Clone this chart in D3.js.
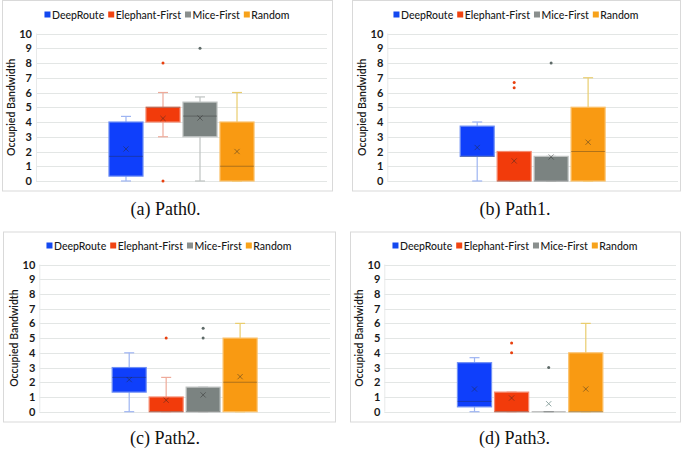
<!DOCTYPE html>
<html><head><meta charset="utf-8">
<script src="https://cdn.jsdelivr.net/npm/d3@7"></script>
<style>body{margin:0;background:#fff}svg{display:block}</style>
</head><body>
<script>
// ---- data ----
const series = ["DeepRoute", "Elephant-First", "Mice-First", "Random"];
const captions = ["(a) Path0.", "(b) Path1.", "(c) Path2.", "(d) Path3."];
const yTicks = [0,1,2,3,4,5,6,7,8,9,10];
// per panel, per series
const whiskerLow = [[0,3,0,0],[0,0,0,0],[0,0,0,0],[0,0,0,0]];
const q1 =        [[0.33,4,3,0],[1.67,0,0,0],[1.33,0,0,0],[0.33,0,0,0]];
const median =    [[1.67,5,4.4,1],[1.67,0,0,2],[2.33,0,0,2],[0.7,0,0,0]];
const q3 =        [[4,5,5.35,4],[3.72,2,1.67,5],[3,1,1.67,5],[3.33,1.33,0,4]];
const whiskerHigh=[[4.38,6,5.7,6],[4,2,1.67,7],[4,2.33,1.67,6],[3.67,1.33,0,6]];
const means =     [[2.17,4.24,4.27,2],[2.27,1.36,1.63,2.63],[2.18,0.78,1.14,2.38],[1.54,0.93,0.54,1.54]];
const outliers =  [[[],[8,0],[9],[]],[[],[6.67,6.33],[8],[]],[[],[5],[5.67,5],[]],[[],[4.67,4],[3],[]]];

// ---- styles / layout ----
const fills = ["#0f3ffb", "#f23b0b", "#7b8381", "#f99a12"];
const edges = ["#6f8ff5", "#f58a70", "#c0c4c3", "#fbc16a"];
const whiskerCols = ["#9db4f2", "#eeaa9a", "#bfc3c2", "#e9cd6e"];
const outCols = ["#1a3a9c", "#e8400f", "#5e6a68", "#9a6410"];
const legendCols = ["#1348f0", "#f04412", "#8a8f8e", "#f7a21a"];
const layout = [
  {fx:2, fy:0.5, fw:330, fh:190.5, x0:36, x1:327, y0:33.5, y1:181, cap:165.5, capY:215},
  {fx:352, fy:0.5, fw:328, fh:190.5, x0:387.3, x1:678, y0:33.5, y1:181, cap:515, capY:215},
  {fx:3, fy:232, fw:332, fh:190, x0:39.3, x1:330, y0:264.5, y1:411.7, cap:165, capY:444},
  {fx:350, fy:232, fw:330, fh:190, x0:384.3, x1:676, y0:264.5, y1:411.7, cap:514.5, capY:444}
];
const uiFont = "Lato, 'Open Sans', sans-serif";

const svg = d3.select("body").append("svg").attr("width",685).attr("height",450);

layout.forEach((L, p) => {
  const g = svg.append("g");
  g.append("rect").attr("x",L.fx+0.5).attr("y",L.fy).attr("width",L.fw).attr("height",L.fh)
    .attr("fill","#fff").attr("stroke","#d9d9d9").attr("stroke-width",1);

  const y = d3.scaleLinear().domain([0,10]).range([L.y1, L.y0]);
  const cx = (L.x0 + L.x1) / 2;
  const gw = (L.x1 - L.x0) * 0.4985;
  const x = d3.scaleBand().domain(series).range([cx - gw/2, cx + gw/2]).paddingInner(0.08).paddingOuter(0);

  g.append("g").selectAll("line").data(yTicks).join("line")
    .attr("x1",L.x0).attr("x2",L.x1)
    .attr("y1",d=>Math.round(y(d))+0.5).attr("y2",d=>Math.round(y(d))+0.5)
    .attr("stroke","#e3e6e5").attr("stroke-width",1);
  g.append("line").attr("x1",L.x0+0.5).attr("x2",L.x0+0.5).attr("y1",L.y0).attr("y2",L.y1)
    .attr("stroke","#e8eaea");

  const ax = g.append("g").attr("transform",`translate(${L.x0},0)`)
    .call(d3.axisLeft(y).tickValues(yTicks).tickSize(0).tickPadding(4).tickFormat(d3.format("d")));
  ax.select(".domain").remove();
  ax.selectAll("text").attr("font-family",uiFont).attr("font-size","11px").attr("font-weight",700).attr("fill","#1a1a1a");

  g.append("text").attr("transform",`translate(${L.x0-25},${(L.y0+L.y1)/2}) rotate(-90)`)
    .attr("text-anchor","middle").attr("dominant-baseline","central")
    .attr("font-family",uiFont).attr("font-size","10.5px").attr("font-weight",600).attr("fill","#1a1a1a")
    .text("Occupied Bandwidth");

  series.forEach((s, i) => {
    const bx = x(s), bw = x.bandwidth(), mx = bx + bw/2;
    const gg = g.append("g");
    [[whiskerLow[p][i], q1[p][i]], [q3[p][i], whiskerHigh[p][i]]].forEach(([a,b]) => {
      gg.append("line").attr("x1",mx).attr("x2",mx).attr("y1",y(a)).attr("y2",y(b))
        .attr("stroke",whiskerCols[i]).attr("stroke-width",1.2);
    });
    [whiskerLow[p][i], whiskerHigh[p][i]].forEach(v => {
      gg.append("line").attr("x1",mx-5).attr("x2",mx+5).attr("y1",y(v)).attr("y2",y(v))
        .attr("stroke",whiskerCols[i]).attr("stroke-width",1.2);
    });
    const top = y(q3[p][i]), bot = y(q1[p][i]);
    gg.append("rect").attr("x",bx).attr("y",top).attr("width",bw).attr("height",Math.max(0,bot-top))
      .attr("fill",fills[i]).attr("stroke",edges[i]).attr("stroke-width",1.2);
    gg.append("line").attr("x1",bx).attr("x2",bx+bw).attr("y1",y(median[p][i])).attr("y2",y(median[p][i]))
      .attr("stroke","rgba(40,40,40,0.35)").attr("stroke-width",1);
    const my = y(means[p][i]), r = 2.6;
    const insideBox = means[p][i] <= q3[p][i] && means[p][i] >= q1[p][i] && q3[p][i] > q1[p][i];
    gg.append("path").attr("d",`M${mx-r},${my-r}L${mx+r},${my+r}M${mx-r},${my+r}L${mx+r},${my-r}`)
      .attr("stroke", insideBox ? "rgba(40,40,40,0.45)" : "#8fa6a3").attr("stroke-width",1).attr("fill","none");
    gg.selectAll("circle").data(outliers[p][i]).join("circle")
      .attr("cx",mx).attr("cy",d=>y(d)).attr("r",1.5).attr("fill",outCols[i]);
  });

  const lg = g.append("g").attr("font-family",uiFont).attr("font-size","10.5px").attr("font-weight",500).attr("fill","#1a1a1a");
  const ly = L.y0 - 19;
  const items = series.map((s,i) => {
    const t = lg.append("text").attr("dominant-baseline","central").attr("y",ly).text(s);
    return {t, w: t.node().getComputedTextLength(), i};
  });
  const sq = 6, gap1 = 1.5, gap2 = 4;
  const total = d3.sum(items, d => sq + gap1 + d.w) + gap2 * (items.length - 1);
  let cur = L.fx + L.fw/2 - total/2;
  items.forEach(d => {
    lg.append("rect").attr("x",cur).attr("y",ly-sq/2).attr("width",sq).attr("height",sq).attr("fill",legendCols[d.i]);
    d.t.attr("x",cur + sq + gap1);
    cur += sq + gap1 + d.w + gap2;
  });

  svg.append("text").attr("x",L.cap).attr("y",L.capY).attr("text-anchor","middle")
    .attr("font-family","'Liberation Serif', 'DejaVu Serif', serif").attr("font-size","18px").attr("fill","#111")
    .text(captions[p]);
});
</script>
</body></html>
